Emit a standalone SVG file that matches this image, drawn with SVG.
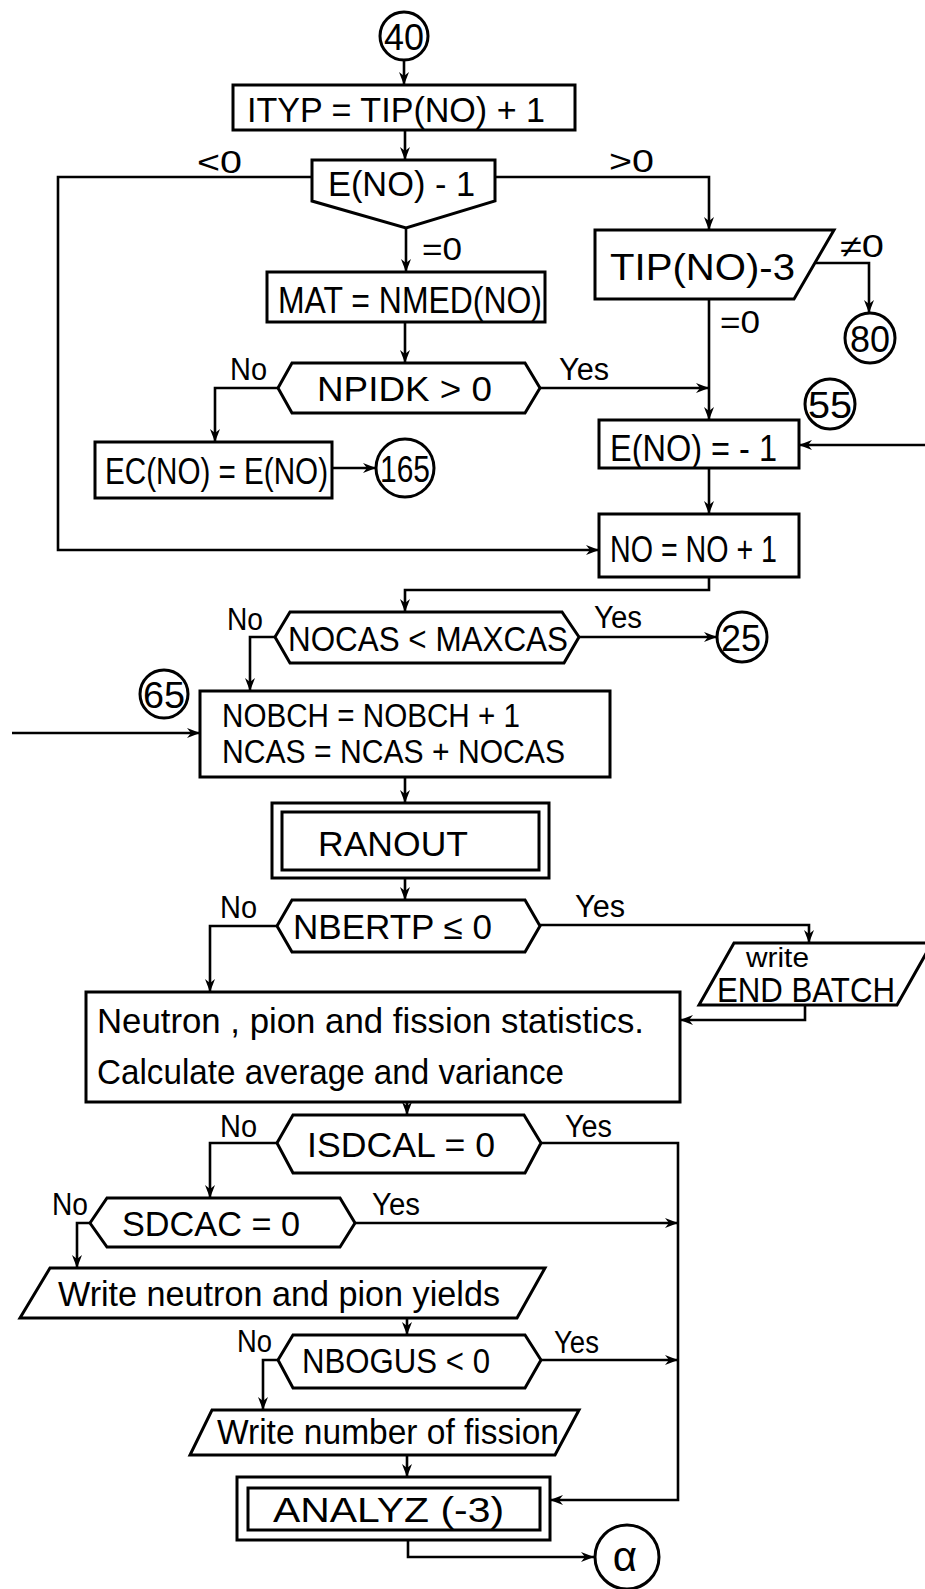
<svg xmlns="http://www.w3.org/2000/svg" width="925" height="1589" viewBox="0 0 925 1589">
<style>
.s{fill:none;stroke:#000;stroke-width:3}
.c{fill:none;stroke:#000;stroke-width:2.6;marker-end:url(#ah)}
text{font-family:"Liberation Sans",Arial,sans-serif;fill:#000}
.m{font-size:35px}
.b{font-size:31px}
.n{font-size:37px}
</style>
<defs>
<marker id="ah" viewBox="-14 -6 15 12" refX="0" refY="0" markerWidth="15" markerHeight="12" markerUnits="userSpaceOnUse" orient="auto">
<path d="M0,0 L-13,-5 L-9,0 L-13,5 Z" fill="#000"/>
</marker>
</defs>
<g id="connectors">
<path class="c" d="M404,60 V85"/>
<path class="c" d="M405,130 V160"/>
<path class="c" d="M312,177 H58 V550 H599"/>
<path class="c" d="M495,177 H709 V230"/>
<path class="c" d="M406,228 V272"/>
<path class="c" d="M405,322 V363"/>
<path class="c" d="M278,388 H215 V442"/>
<path class="c" d="M540,388 H709"/>
<path class="c" d="M332,468 H376"/>
<path class="c" d="M816,263 H869 V313"/>
<path class="c" d="M709,299 V420"/>
<path class="c" d="M925,445 H799"/>
<path class="c" d="M709,468 V514"/>
<path class="c" d="M709,577 V590 H405 V612"/>
<path class="c" d="M579,637 H717"/>
<path class="c" d="M275,637 H250 V691"/>
<path class="c" d="M12,733 H200"/>
<path class="c" d="M405,777 V803"/>
<path class="c" d="M405,878 V900"/>
<path class="c" d="M277,926 H210 V992"/>
<path class="c" d="M540,925 H809 V943"/>
<path class="c" d="M805,1005 V1020 H680"/>
<path class="c" d="M407,1102 V1115"/>
<path class="c" d="M277,1143 H210 V1198"/>
<path class="c" d="M541,1143 H678 V1500 H550"/>
<path class="c" d="M355,1223 H678"/>
<path class="c" d="M90,1223 H77 V1268"/>
<path class="c" d="M407,1318 V1335"/>
<path class="c" d="M541,1360 H678"/>
<path class="c" d="M278,1360 H263 V1410"/>
<path class="c" d="M407,1455 V1477"/>
<path class="c" d="M408,1540 V1557 H594"/>
</g>
<g id="labels">
<text class="b" x="197" y="173" textLength="45" lengthAdjust="spacingAndGlyphs">&lt;0</text>
<text class="b" x="609" y="172" textLength="45" lengthAdjust="spacingAndGlyphs">&gt;0</text>
<text class="b" x="422" y="260" textLength="40" lengthAdjust="spacingAndGlyphs">=0</text>
<text class="b" x="840" y="257" textLength="44" lengthAdjust="spacingAndGlyphs">≠0</text>
<text class="b" x="720" y="333" textLength="40" lengthAdjust="spacingAndGlyphs">=0</text>
<text class="b" x="230" y="380" textLength="37" lengthAdjust="spacingAndGlyphs">No</text>
<text class="b" x="559" y="380" textLength="50" lengthAdjust="spacingAndGlyphs">Yes</text>
<text class="b" x="227" y="630" textLength="36" lengthAdjust="spacingAndGlyphs">No</text>
<text class="b" x="594" y="628" textLength="48" lengthAdjust="spacingAndGlyphs">Yes</text>
<text class="b" x="220" y="918" textLength="37" lengthAdjust="spacingAndGlyphs">No</text>
<text class="b" x="575" y="917" textLength="50" lengthAdjust="spacingAndGlyphs">Yes</text>
<text class="b" x="220" y="1137" textLength="37" lengthAdjust="spacingAndGlyphs">No</text>
<text class="b" x="565" y="1137" textLength="47" lengthAdjust="spacingAndGlyphs">Yes</text>
<text class="b" x="52" y="1215" textLength="36" lengthAdjust="spacingAndGlyphs">No</text>
<text class="b" x="372" y="1215" textLength="48" lengthAdjust="spacingAndGlyphs">Yes</text>
<text class="b" x="237" y="1352" textLength="35" lengthAdjust="spacingAndGlyphs">No</text>
<text class="b" x="554" y="1353" textLength="45" lengthAdjust="spacingAndGlyphs">Yes</text>
</g>
<g id="n40"><circle class="s" cx="404" cy="36" r="24"/><text class="n" x="404" y="50" text-anchor="middle" textLength="40" lengthAdjust="spacingAndGlyphs">40</text></g>
<g id="nITYP"><rect class="s" x="233" y="85" width="342" height="45"/><text class="m" x="247" y="122" textLength="298" lengthAdjust="spacingAndGlyphs">ITYP = TIP(NO) + 1</text></g>
<g id="nE1"><polygon class="s" points="312,160 495,160 495,201 406,228 312,201"/><text class="m" x="328" y="196" textLength="147" lengthAdjust="spacingAndGlyphs">E(NO) - 1</text></g>
<g id="nMAT"><rect class="s" x="267" y="272" width="278" height="50"/><text class="n" x="278" y="313" textLength="264" lengthAdjust="spacingAndGlyphs">MAT = NMED(NO)</text></g>
<g id="nNPIDK"><polygon class="s" points="278,388 292,363 525,363 540,388 525,413 292,413"/><text class="m" x="317" y="401" textLength="175" lengthAdjust="spacingAndGlyphs">NPIDK &gt; 0</text></g>
<g id="nEC"><rect class="s" x="95" y="442" width="237" height="56"/><text class="n" x="105" y="484" textLength="223" lengthAdjust="spacingAndGlyphs">EC(NO) = E(NO)</text></g>
<g id="n165"><circle class="s" cx="405" cy="468" r="29"/><text class="n" x="405" y="482" text-anchor="middle" textLength="50" lengthAdjust="spacingAndGlyphs">165</text></g>
<g id="nTIP"><polygon class="s" points="595,230 834,230 794,299 595,299"/><text class="n" x="610" y="280" textLength="185" lengthAdjust="spacingAndGlyphs">TIP(NO)-3</text></g>
<g id="n80"><circle class="s" cx="870" cy="338" r="25"/><text class="n" x="870" y="352" text-anchor="middle" textLength="40" lengthAdjust="spacingAndGlyphs">80</text></g>
<g id="n55"><circle class="s" cx="830" cy="404" r="25"/><text class="n" x="830" y="418" text-anchor="middle" textLength="44" lengthAdjust="spacingAndGlyphs">55</text></g>
<g id="nENEG"><rect class="s" x="599" y="420" width="200" height="48"/><text class="n" x="610" y="461" textLength="167" lengthAdjust="spacingAndGlyphs">E(NO) = - 1</text></g>
<g id="nNO"><rect class="s" x="599" y="514" width="200" height="63"/><text class="n" x="610" y="562" textLength="167" lengthAdjust="spacingAndGlyphs">NO = NO + 1</text></g>
<g id="nNOCAS"><polygon class="s" points="275,637 290,612 562,612 579,637 564,663 290,663"/><text class="m" x="288" y="651" textLength="280" lengthAdjust="spacingAndGlyphs">NOCAS &lt; MAXCAS</text></g>
<g id="n25"><circle class="s" cx="742" cy="637" r="25"/><text class="n" x="741" y="651" text-anchor="middle" textLength="40" lengthAdjust="spacingAndGlyphs">25</text></g>
<g id="n65"><circle class="s" cx="164" cy="694" r="24"/><text class="n" x="164" y="708" text-anchor="middle" textLength="42" lengthAdjust="spacingAndGlyphs">65</text></g>
<g id="nNOBCH"><rect class="s" x="200" y="691" width="410" height="86"/><text style="font-size:33px" x="222" y="727" textLength="298" lengthAdjust="spacingAndGlyphs">NOBCH = NOBCH + 1</text><text style="font-size:33px" x="222" y="763" textLength="343" lengthAdjust="spacingAndGlyphs">NCAS = NCAS + NOCAS</text></g>
<g id="nRANOUT"><rect class="s" x="272" y="803" width="277" height="75"/><rect class="s" x="282" y="812" width="257" height="58"/><text class="m" x="318" y="856" textLength="150" lengthAdjust="spacingAndGlyphs">RANOUT</text></g>
<g id="nNBERTP"><polygon class="s" points="277,926 292,900 525,900 540,926 525,952 292,952"/><text class="m" x="293" y="939" textLength="199" lengthAdjust="spacingAndGlyphs">NBERTP ≤ 0</text></g>
<g id="nEND"><polygon class="s" points="734,943 932,943 897,1005 699,1005"/><text x="746" y="967" style="font-size:27px" textLength="63" lengthAdjust="spacingAndGlyphs">write</text><text x="717" y="1002" style="font-size:35px" textLength="178" lengthAdjust="spacingAndGlyphs">END BATCH</text></g>
<g id="nNEUT"><rect class="s" x="86" y="992" width="594" height="110"/><text class="m" x="97" y="1033" textLength="547" lengthAdjust="spacingAndGlyphs">Neutron , pion and fission statistics.</text><text class="m" x="97" y="1084" textLength="467" lengthAdjust="spacingAndGlyphs">Calculate average and variance</text></g>
<g id="nISDCAL"><polygon class="s" points="277,1143 293,1115 524,1115 541,1143 525,1173 293,1173"/><text class="m" x="307" y="1157" textLength="188" lengthAdjust="spacingAndGlyphs">ISDCAL = 0</text></g>
<g id="nSDCAC"><polygon class="s" points="90,1223 107,1198 340,1198 355,1223 340,1247 107,1247"/><text class="m" x="122" y="1236" textLength="178" lengthAdjust="spacingAndGlyphs">SDCAC = 0</text></g>
<g id="nWN"><polygon class="s" points="50,1268 545,1268 517,1318 20,1318"/><text class="m" x="58" y="1306" textLength="442" lengthAdjust="spacingAndGlyphs">Write neutron and pion yields</text></g>
<g id="nNBOGUS"><polygon class="s" points="278,1360 293,1335 525,1335 541,1360 525,1388 293,1388"/><text class="m" x="302" y="1373" textLength="188" lengthAdjust="spacingAndGlyphs">NBOGUS &lt; 0</text></g>
<g id="nWF"><polygon class="s" points="212,1410 579,1410 555,1455 190,1455"/><text class="m" x="217" y="1444" textLength="342" lengthAdjust="spacingAndGlyphs">Write number of fission</text></g>
<g id="nANALYZ"><rect class="s" x="237" y="1477" width="313" height="63"/><rect class="s" x="248" y="1488" width="292" height="42"/><text class="m" x="273" y="1522" textLength="231" lengthAdjust="spacingAndGlyphs">ANALYZ (-3)</text></g>
<g id="nALPHA"><circle class="s" cx="627" cy="1557" r="32"/><text x="625" y="1571" text-anchor="middle" style="font-size:42px">α</text></g>
</svg>
